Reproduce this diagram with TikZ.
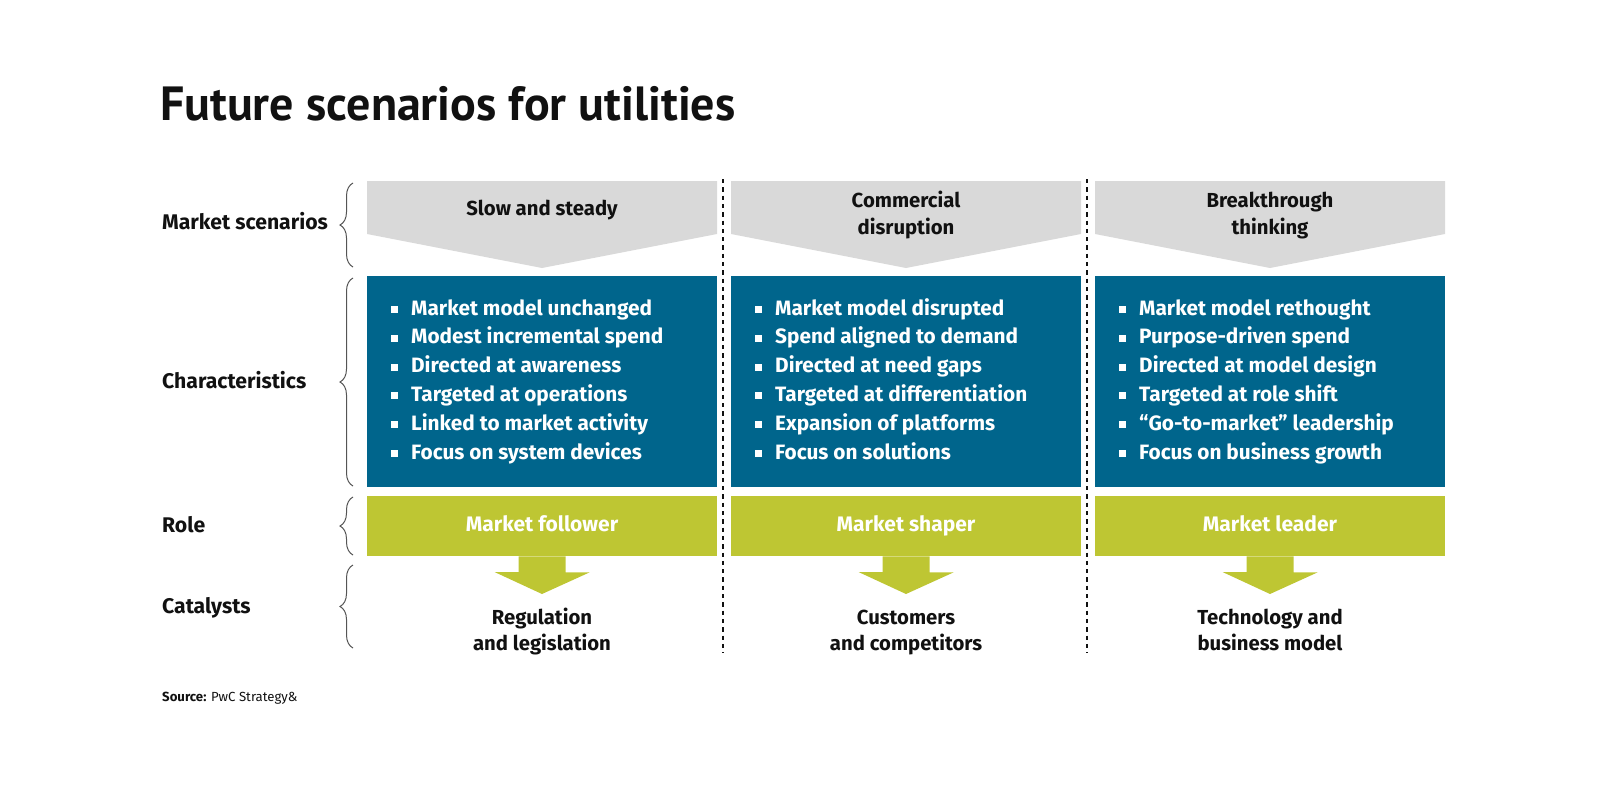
\documentclass[tikz,border=0pt]{standalone}
\usepackage{fontspec}
\setmainfont{Fira Sans}
\newfontfamily\titlefont{PT Sans}
\usetikzlibrary{decorations.pathreplacing}
\definecolor{chev}{HTML}{D9D9D9}
\definecolor{blu}{HTML}{00658C}
\definecolor{grn}{HTML}{BEC633}
\definecolor{ink}{HTML}{111111}
\definecolor{brk}{HTML}{555555}
\begin{document}
\begin{tikzpicture}[x=1pt,y=-1pt,
  lbl/.style={anchor=base west, font=\bfseries\fontsize{21.2}{24}\selectfont, text=ink, inner sep=0},
  hdr/.style={anchor=base, font=\bfseries\fontsize{20.3}{24}\selectfont, text=ink, inner sep=0},
  item/.style={anchor=base west, font=\bfseries\fontsize{20.8}{24}\selectfont, text=white, inner sep=0},
  bul/.style={fill=white},
  rolet/.style={anchor=base, font=\bfseries\fontsize{21}{24}\selectfont, text=white, inner sep=0},
  brc/.style={draw=brk, line width=1pt, decorate, decoration={brace, amplitude=13pt}},
  sep/.style={draw=ink, line width=1.3pt, dash pattern=on 4.3pt off 4pt},
]
\useasboundingbox (0,0) rectangle (1600,800);

% title
\node[anchor=base west, inner sep=0, font=\titlefont\bfseries\fontsize{48}{52}\selectfont, text=ink] (title) at (160,120) {Future scenarios for utilities};

% row labels
\node[lbl] (lms) at (162,229) {Market scenarios};
\node[lbl] (lch) at (162,388) {Characteristics};
\node[lbl] (lro) at (162,532) {Role};
\node[lbl] (lca) at (162,613) {Catalysts};

% braces
\draw[brc] (353,267) -- (353,183);
\draw[brc] (353,486) -- (353,278);
\draw[brc] (353,555) -- (353,497);
\draw[brc] (353,648) -- (353,565);

% separators
\draw[sep] (723,179) -- (723,653);
\draw[sep] (1087,179) -- (1087,653);

% columns
\foreach \c/\n in {542/1, 906/2, 1270/3}{
  \fill[chev] (\c-175,181) -- (\c+175,181) -- (\c+175,234) -- (\c,268) -- (\c-175,234) -- cycle;
  \node[fill=blu, minimum width=350pt, minimum height=211pt, inner sep=0, anchor=north] (blue\n) at (\c,276) {};
  \node[fill=grn, minimum width=350pt, minimum height=60pt, inner sep=0, anchor=north] (role\n) at (\c,496) {};
  \fill[grn] (role\n.south) ++(-23.5,0) -- ++(47,0) -- ++(0,16) -- ++(24,0) -- (\c,594) -- (\c-47.5,572) -- (\c-23.5,572) -- cycle;
}

% headers
\node[hdr] (h1) at (542,215) {Slow and steady};
\node[hdr] (h2a) at (906,207) {Commercial};
\node[hdr] (h2b) at (906,234) {disruption};
\node[hdr] (h3a) at (1270,207) {Breakthrough};
\node[hdr] (h3b) at (1270,234) {thinking};

% items
\foreach \col/\lst in {1/{Market model unchanged,Modest incremental spend,Directed at awareness,Targeted at operations,Linked to market activity,Focus on system devices},
                      2/{Market model disrupted,Spend aligned to demand,Directed at need gaps,Targeted at differentiation,Expansion of platforms,Focus on solutions},
                      3/{Market model rethought,Purpose-driven spend,Directed at model design,Targeted at role shift,“Go-to-market” leadership,Focus on business growth}}{
  \foreach \t [count=\i] in \lst {
    \pgfmathsetmacro{\xl}{367+(\col-1)*364}
    \pgfmathsetmacro{\yb}{315+(\i-1)*28.8}
    \fill[bul] (\xl+24,\yb-9) rectangle ++(7,7);
    \node[item] (it\col-\i) at (\xl+44,\yb) {\t};
  }
}

% roles
\node[rolet] (r1) at (542,531) {Market follower};
\node[rolet] (r2) at (906,531) {Market shaper};
\node[rolet] (r3) at (1270,531) {Market leader};

% catalysts
\node[hdr] (c1a) at (542,624) {Regulation};
\node[hdr] (c1b) at (542,650) {and legislation};
\node[hdr] (c2a) at (906,624) {Customers};
\node[hdr] (c2b) at (906,650) {and competitors};
\node[hdr] (c3a) at (1270,624) {Technology and};
\node[hdr] (c3b) at (1270,650) {business model};

% source
\node[anchor=base west, inner sep=0, font=\fontsize{13.2}{15}\selectfont, text=ink] (src) at (162,701) {\textbf{Source:} PwC Strategy\&};
\end{tikzpicture}
\end{document}
